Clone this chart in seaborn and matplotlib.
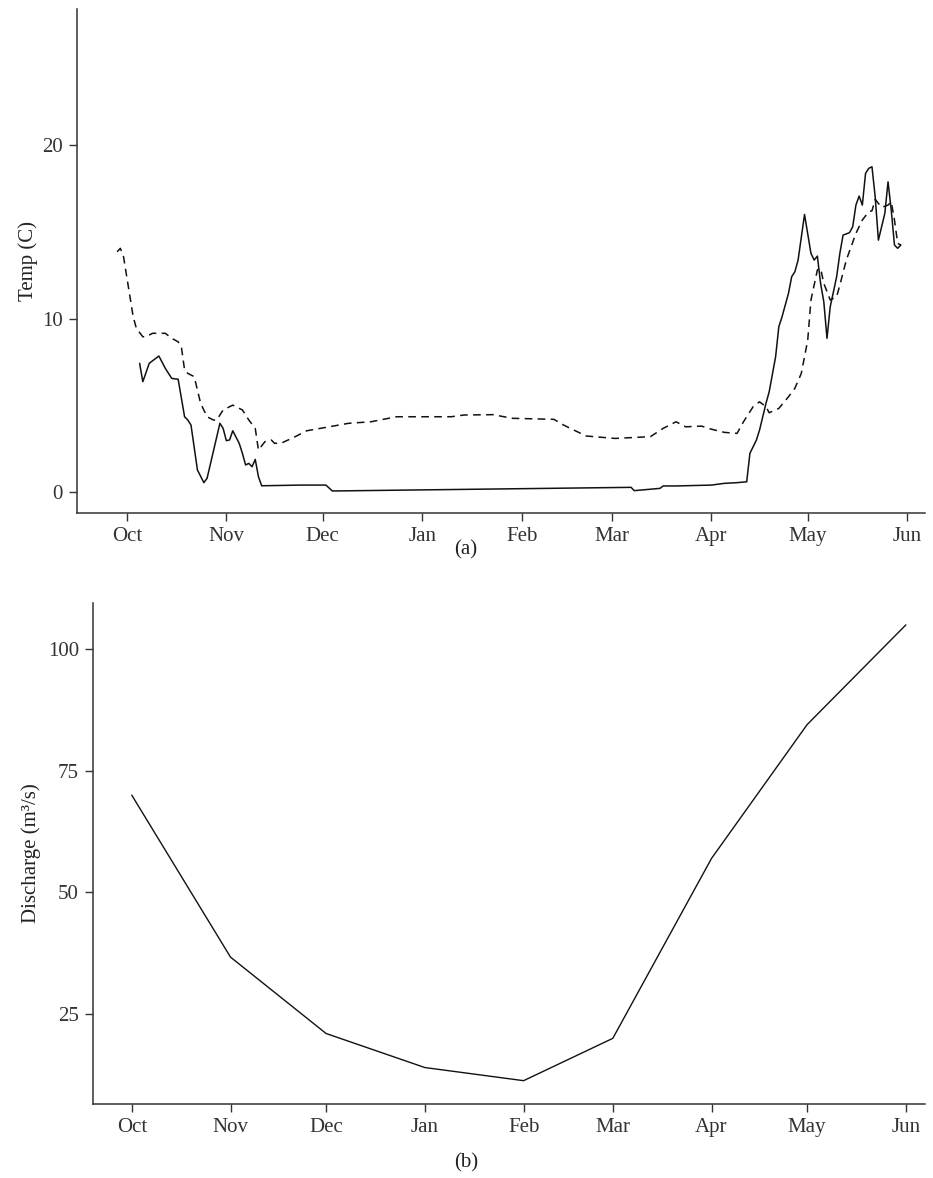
import matplotlib
matplotlib.use("Agg")
import matplotlib.pyplot as plt
import matplotlib.dates as mdates
import seaborn as sns
import pandas as pd

# ---------------- data ----------------
# Panel (a): water temperature, dashed series
temp_dashed_dates = [
    "2010-09-28", "2010-09-29", "2010-09-30", "2010-10-03", "2010-10-04", "2010-10-06",
    "2010-10-07", "2010-10-09", "2010-10-13", "2010-10-15", "2010-10-17", "2010-10-18",
    "2010-10-19", "2010-10-20", "2010-10-22", "2010-10-24", "2010-10-26", "2010-10-28",
    "2010-10-29", "2010-10-31", "2010-11-03", "2010-11-06", "2010-11-08", "2010-11-10",
    "2010-11-11", "2010-11-13", "2010-11-15", "2010-11-16", "2010-11-18", "2010-11-22",
    "2010-11-26", "2010-12-03", "2010-12-09", "2010-12-16", "2010-12-24", "2011-01-10",
    "2011-01-14", "2011-01-23", "2011-01-29", "2011-02-11", "2011-02-14", "2011-02-21",
    "2011-03-02", "2011-03-13", "2011-03-17", "2011-03-21", "2011-03-24", "2011-03-29",
    "2011-03-31", "2011-04-05", "2011-04-09", "2011-04-11", "2011-04-14", "2011-04-16",
    "2011-04-18", "2011-04-19", "2011-04-22", "2011-04-25", "2011-04-27", "2011-04-29",
    "2011-05-01", "2011-05-02", "2011-05-04", "2011-05-05", "2011-05-06", "2011-05-08",
    "2011-05-10", "2011-05-11", "2011-05-13", "2011-05-16", "2011-05-18", "2011-05-20",
    "2011-05-21", "2011-05-22", "2011-05-24", "2011-05-26", "2011-05-27", "2011-05-28",
    "2011-05-29", "2011-05-30",
]
temp_dashed_values = [
    13.85, 14.05, 13.56, 10.1, 9.43, 8.95,
    8.95, 9.15, 9.15, 8.86, 8.66, 8.37,
    7.03, 6.84, 6.65, 5.11, 4.34, 4.15,
    4.15, 4.73, 5.01, 4.73, 4.15, 3.67,
    2.42, 2.9, 3.0, 2.81, 2.81, 3.15,
    3.53, 3.76, 3.96, 4.05, 4.34, 4.34,
    4.44, 4.46, 4.25, 4.19, 3.86, 3.23,
    3.09, 3.19, 3.67, 4.05, 3.76, 3.8,
    3.67, 3.44, 3.38, 4.05, 4.92, 5.2,
    4.92, 4.57, 4.82, 5.49, 5.98, 6.84,
    8.76, 11.07, 12.8, 12.9, 12.03, 11.07,
    11.26, 11.93, 13.37, 14.91, 15.68, 16.16,
    16.21, 16.87, 16.41, 16.54, 16.73, 15.68,
    14.33, 14.24,
]

# Panel (a): water temperature, solid series
temp_solid_dates = [
    "2010-10-05", "2010-10-06", "2010-10-08", "2010-10-11", "2010-10-13", "2010-10-15",
    "2010-10-17", "2010-10-19", "2010-10-20", "2010-10-21", "2010-10-23", "2010-10-25",
    "2010-10-26", "2010-10-30", "2010-10-31", "2010-11-01", "2010-11-02", "2010-11-03",
    "2010-11-05", "2010-11-06", "2010-11-07", "2010-11-08", "2010-11-09", "2010-11-10",
    "2010-11-11", "2010-11-12", "2010-11-24", "2010-12-02", "2010-12-04", "2011-03-07",
    "2011-03-08", "2011-03-16", "2011-03-17", "2011-03-21", "2011-04-01", "2011-04-05",
    "2011-04-09", "2011-04-12", "2011-04-13", "2011-04-15", "2011-04-16", "2011-04-18",
    "2011-04-19", "2011-04-21", "2011-04-22", "2011-04-23", "2011-04-25", "2011-04-26",
    "2011-04-27", "2011-04-28", "2011-04-30", "2011-05-02", "2011-05-03", "2011-05-04",
    "2011-05-05", "2011-05-06", "2011-05-07", "2011-05-08", "2011-05-09", "2011-05-10",
    "2011-05-11", "2011-05-12", "2011-05-14", "2011-05-15", "2011-05-16", "2011-05-17",
    "2011-05-18", "2011-05-19", "2011-05-20", "2011-05-21", "2011-05-22", "2011-05-23",
    "2011-05-25", "2011-05-26", "2011-05-27", "2011-05-28", "2011-05-29", "2011-05-30",
]
temp_solid_values = [
    7.42, 6.36, 7.42, 7.84, 7.13, 6.55,
    6.5, 4.34, 4.15, 3.86, 1.27, 0.54,
    0.79, 3.96, 3.67, 2.96, 3.0, 3.53,
    2.81, 2.23, 1.56, 1.65, 1.46, 1.88,
    0.88, 0.36, 0.40, 0.40, 0.06, 0.27,
    0.08, 0.21, 0.35, 0.35, 0.40, 0.50,
    0.54, 0.59, 2.23, 2.99, 3.57, 5.11,
    5.78, 7.8, 9.53, 10.1, 11.45, 12.41,
    12.7, 13.37, 16.0, 13.76, 13.37, 13.6,
    12.03, 10.97, 8.86, 10.68, 11.54, 12.41,
    13.76, 14.81, 14.95, 15.29, 16.54, 17.06,
    16.54, 18.37, 18.66, 18.75, 17.02, 14.52,
    16.06, 17.88, 16.25, 14.24, 14.05, 14.24,
]

# Panel (b): monthly discharge
discharge_months = [
    "2010-10-01", "2010-11-01", "2010-12-01", "2011-01-01", "2011-02-01",
    "2011-03-01", "2011-04-01", "2011-05-01", "2011-06-01",
]
discharge_values = [70.0, 36.7, 21.0, 14.0, 11.3, 20.0, 57.0, 84.5, 105.0]

temp_yticks = [0, 10, 20]
discharge_yticks = [25, 50, 75, 100]

# ---------------- style ----------------
sns.set_style("ticks")
plt.rcParams["font.family"] = ["Liberation Serif", "DejaVu Serif"]
plt.rcParams["axes.edgecolor"] = "#333333"
plt.rcParams["xtick.color"] = "#333333"
plt.rcParams["ytick.color"] = "#333333"
plt.rcParams["text.color"] = "#222222"
plt.rcParams["axes.labelcolor"] = "#222222"

FS = 15

fig = plt.figure(figsize=(9.33, 11.78), dpi=100)
ax1 = fig.add_axes([0.0825, 0.5645, 0.9089, 0.4278])
ax2 = fig.add_axes([0.0994, 0.0628, 0.8920, 0.4253])

df_dash = pd.DataFrame({"date": pd.to_datetime(temp_dashed_dates), "temp": temp_dashed_values})
df_solid = pd.DataFrame({"date": pd.to_datetime(temp_solid_dates), "temp": temp_solid_values})
df_q = pd.DataFrame({"date": pd.to_datetime(discharge_months), "q": discharge_values})

sns.lineplot(data=df_dash, x="date", y="temp", ax=ax1, color="#111111",
             linewidth=1.1, linestyle=(0, (5, 3.5)), estimator=None)
sns.lineplot(data=df_solid, x="date", y="temp", ax=ax1, color="#111111",
             linewidth=1.1, estimator=None)
sns.lineplot(data=df_q, x="date", y="q", ax=ax2, color="#111111",
             linewidth=1.0, estimator=None)

for ax in (ax1, ax2):
    sns.despine(ax=ax)
    ax.xaxis.set_major_locator(mdates.MonthLocator())
    ax.xaxis.set_major_formatter(mdates.DateFormatter("%b"))
    ax.tick_params(axis="both", labelsize=FS, length=6, width=1.0, pad=4)
    for s in ("left", "bottom"):
        ax.spines[s].set_linewidth(1.1)
    ax.set_xlabel("")

ax1.set_xlim(pd.Timestamp("2010-09-15 12:00"), pd.Timestamp("2011-06-06 12:00"))
ax1.set_ylim(-1.21, 27.84)
ax1.set_yticks(temp_yticks)
ax1.set_ylabel("Temp (C)", fontsize=FS, labelpad=3)

ax2.set_xlim(pd.Timestamp("2010-09-18 18:00"), pd.Timestamp("2011-06-07 00:00"))
ax2.set_ylim(6.5, 109.5)
ax2.set_yticks(discharge_yticks)
ax2.set_ylabel("Discharge (m\u00b3/s)", fontsize=FS, labelpad=5)

fig.text(0.4995, 0.533, "(a)", ha="center", va="center", fontsize=FS)
fig.text(0.4995, 0.0127, "(b)", ha="center", va="center", fontsize=FS)

fig.savefig("out.png", dpi=100)
